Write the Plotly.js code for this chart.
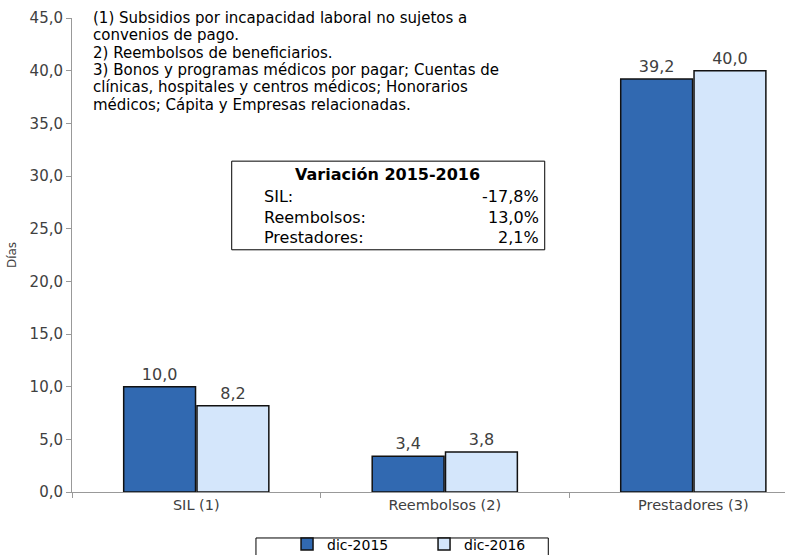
<!DOCTYPE html>
<html>
<head>
<meta charset="utf-8">
<script src="https://cdn.plot.ly/plotly-3.0.1.min.js"></script>
<style>
  body { margin: 0; background: #fff; }
  #chart { width: 806px; height: 555px; }
</style>
</head>
<body>
<div id="chart"></div>
<script>
// categorias y valores (dias)
const categorias = ['SIL (1)', 'Reembolsos (2)', 'Prestadores (3)'];
const dic2015 = [10.0, 3.4, 39.2];
const dic2016 = [8.2, 3.8, 40.0];

// tabla de variacion
const varEtiquetas = ['SIL:', 'Reembolsos:', 'Prestadores:'];
const varValores = ['-17,8%', '13,0%', '2,1%'];

// notas al pie (una linea por elemento)
const notas = [
    '(1) Subsidios por incapacidad laboral no sujetos a',
    'convenios de pago.',
    '2) Reembolsos de beneficiarios.',
    '3) Bonos y programas médicos por pagar; Cuentas de',
    'clínicas, hospitales y centros médicos; Honorarios',
    'médicos; Cápita y Empresas relacionadas.'
];

const fuente = 'DejaVu Sans, Verdana, sans-serif';

function etiqueta(v) {
    return v.toFixed(1).replace('.', ',');
}

var trace1 = {
    x: categorias,
    y: dic2015,
    type: 'bar',
    name: 'dic-2015',
    marker: { color: '#3169b1', line: { color: '#111', width: 1.5 } },
    text: dic2015.map(etiqueta),
    textposition: 'outside',
    cliponaxis: false,
    textfont: { size: 16, color: '#404040' }
};
var trace2 = {
    x: categorias,
    y: dic2016,
    type: 'bar',
    name: 'dic-2016',
    marker: { color: '#d4e6fb', line: { color: '#111', width: 1.5 } },
    text: dic2016.map(etiqueta),
    textposition: 'outside',
    cliponaxis: false,
    textfont: { size: 16, color: '#404040' }
};

let annotations = [];
// notas arriba a la izquierda
for (let i = 0; i < notas.length; i++) {
    annotations.push({
        xref: 'paper', yref: 'paper', x: 0.0266, y: (492 - 18 - i * 17.3) / 474,
        xanchor: 'left', yanchor: 'middle', align: 'left', showarrow: false,
        text: notas[i], font: { size: 15, color: '#000', family: fuente }
    });
}
// tabla
annotations.push({
    xref: 'paper', yref: 'paper', x: 0.443, y: 0.669,
    xanchor: 'center', yanchor: 'middle', showarrow: false,
    text: '<b>Variación 2015-2016</b>', font: { size: 16, color: '#000', family: fuente }
});
for (let i = 0; i < varEtiquetas.length; i++) {
    let yy = 0.624 - i * 0.044;
    annotations.push({
        xref: 'paper', yref: 'paper', x: 0.267, y: yy,
        xanchor: 'left', yanchor: 'middle', showarrow: false,
        text: varEtiquetas[i], font: { size: 16, color: '#000', family: fuente }
    });
    annotations.push({
        xref: 'paper', yref: 'paper', x: 0.658, y: yy,
        xanchor: 'right', yanchor: 'middle', showarrow: false,
        text: varValores[i], font: { size: 16, color: '#000', family: fuente }
    });
}

var layout = {
    width: 806,
    height: 555,
    margin: { l: 72, r: 21, t: 18, b: 63, autoexpand: false },
    paper_bgcolor: '#fff',
    plot_bgcolor: '#fff',
    separators: ',.',
    font: { family: fuente, size: 15, color: '#404040' },
    barmode: 'group',
    bargap: 0.41,
    bargroupgap: 0.02,
    showlegend: true,
    legend: {
        orientation: 'h',
        x: 0.3016, y: -0.077, xanchor: 'left', yanchor: 'top',
        entrywidth: 92, entrywidthmode: 'pixels',
        font: { size: 14, color: '#000', family: fuente },
        itemwidth: 30,
        bgcolor: 'rgba(0,0,0,0)'
    },
    xaxis: {
        range: [-0.5, 2.369],
        showline: true, linecolor: '#999', linewidth: 1,
        ticks: 'outside', tickson: 'boundaries', ticklen: 5, tickcolor: '#999',
        showgrid: false, zeroline: false,
        tickfont: { size: 14.5, color: '#404040' }
    },
    yaxis: {
        range: [0, 45], dtick: 5, tickformat: '.1f',
        showline: true, linecolor: '#999', linewidth: 1,
        ticks: 'outside', ticklen: 5, tickcolor: '#999',
        showgrid: false, zeroline: false,
        tickfont: { size: 15, color: '#404040' },
        title: { text: 'Días', font: { size: 12, color: '#404040' }, standoff: 10 }
    },
    shapes: [{
        // recuadro de la tabla
        type: 'rect', xref: 'paper', yref: 'paper',
        x0: 0.224, x1: 0.663, y0: 0.511, y1: 0.698,
        line: { color: '#000', width: 1 }, fillcolor: 'rgba(0,0,0,0)'
    }, {
        // recuadro de la leyenda
        type: 'rect', xref: 'paper', yref: 'paper',
        x0: 0.258, x1: 0.668, y0: -0.097, y1: -0.2,
        line: { color: '#000', width: 1 }, fillcolor: 'rgba(0,0,0,0)'
    }],
    annotations: annotations
};

Plotly.newPlot('chart', [trace1, trace2], layout, { displayModeBar: false, staticPlot: true });
</script>
</body>
</html>
